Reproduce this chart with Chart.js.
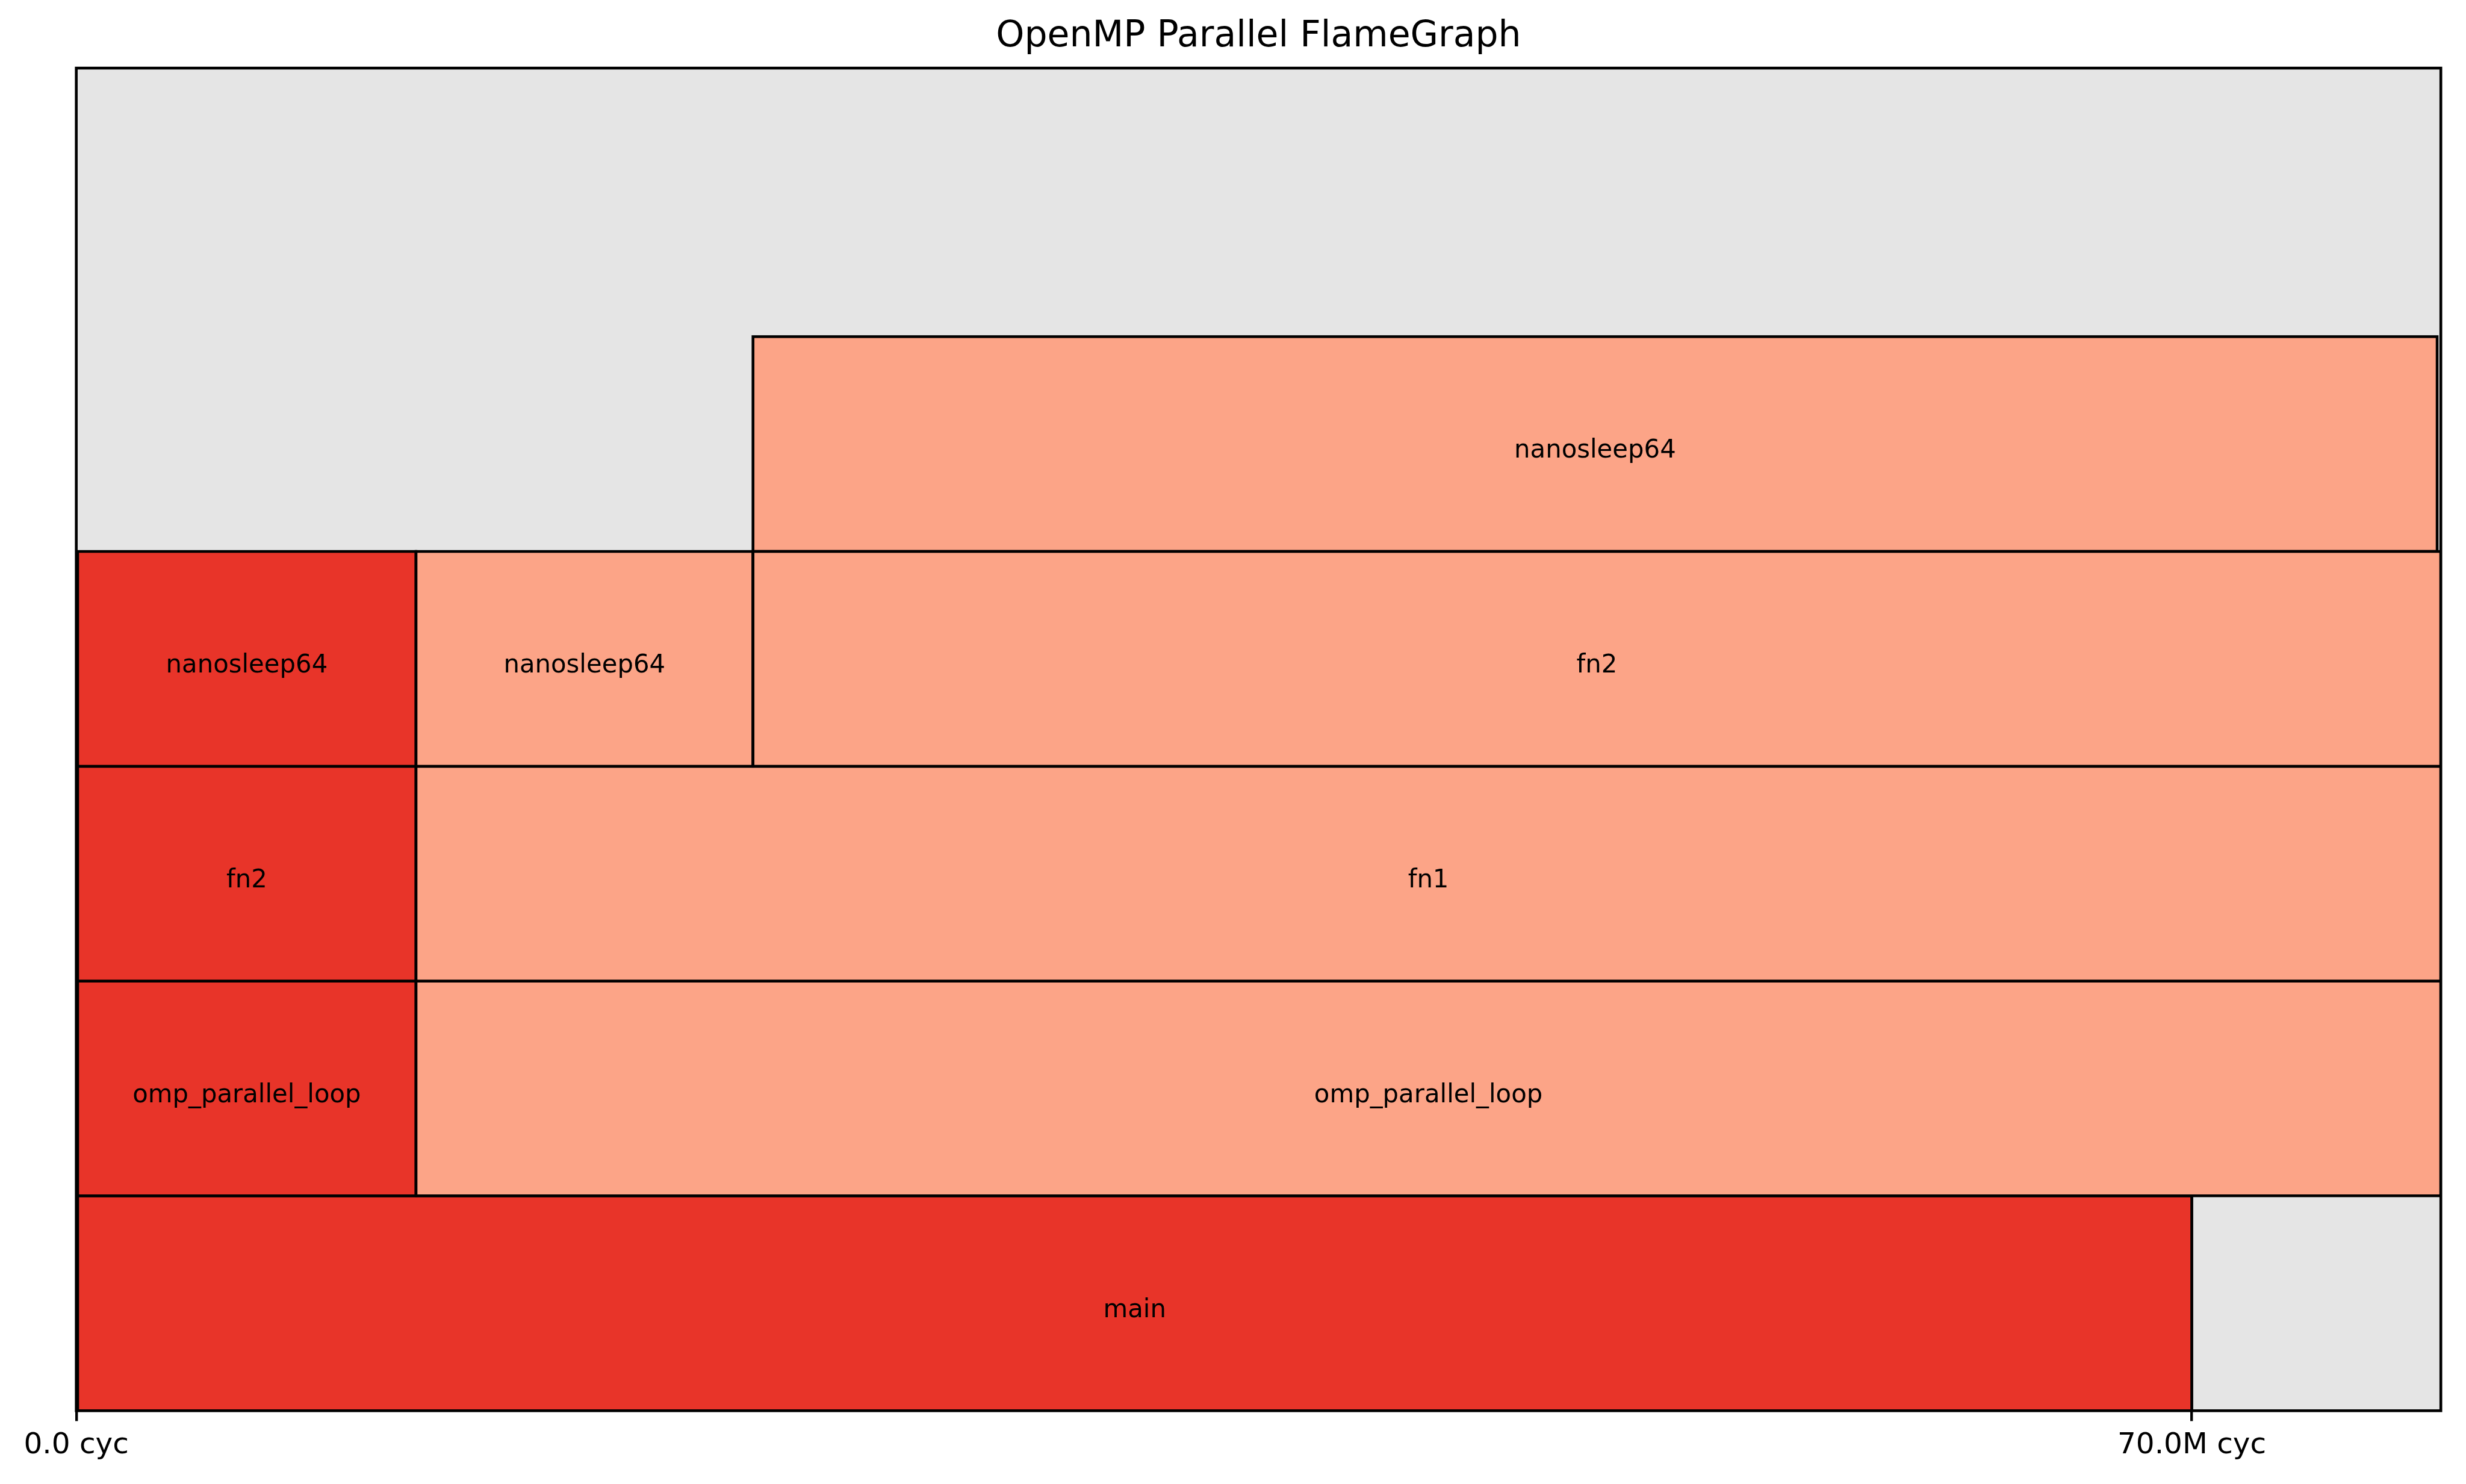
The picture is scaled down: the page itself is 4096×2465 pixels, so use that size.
<!DOCTYPE html>
<html>
<head>
<meta charset="utf-8">
<script src="https://cdn.jsdelivr.net/npm/chart.js@4/dist/chart.umd.min.js"></script>
<style>
html,body{margin:0;padding:0;background:#ffffff;}
#wrap{width:4096px;height:2465px;}
</style>
</head>
<body>
<div id="wrap"><canvas id="c" width="4096" height="2465"></canvas></div>
<script>
// ---- data (x values in millions of cycles, depth = stack level) ----
const frameNames  = ['main','omp_parallel_loop','omp_parallel_loop','fn2','fn1','nanosleep64','nanosleep64','fn2','nanosleep64'];
const frameDepth  = [0, 1, 1, 2, 2, 3, 3, 3, 4];
const frameStart  = [0, 0, 11.24, 0, 11.24, 0, 11.24, 22.39, 22.39];
const frameEnd    = [70, 11.24, 78.24, 11.24, 78.24, 11.24, 22.39, 78.24, 78.12];
const frameMaster = [1, 1, 0, 1, 0, 1, 0, 0, 0];   // 1 = master-thread frame (dark red)
const tickValues  = [0, 70];
const tickLabels  = ['0.0 cyc', '70.0M cyc'];
const titleText   = 'OpenMP Parallel FlameGraph';
const xMax = 78.24;
const yMax = 6.25;

// ---- styles ----
const HOT = '#e83429', WARM = '#fca487', BG = '#e5e5e5';
const EDGE = 4.8;
const LABEL_DY = 12;

Chart.defaults.font.family = 'DejaVu Sans';
Chart.defaults.color = '#000000';

const bars = frameNames.map((n, i) => ({ x: [frameStart[i], frameEnd[i]], y: frameDepth[i] + 0.5 }));
const colors = frameMaster.map(m => m ? HOT : WARM);

const bgPlugin = {
  id: 'axbg',
  beforeDatasetsDraw(chart) {
    const a = chart.chartArea, ctx = chart.ctx;
    ctx.save();
    ctx.fillStyle = BG;
    ctx.fillRect(a.left, a.top, a.right - a.left, a.bottom - a.top);
    ctx.restore();
  }
};

const labelPlugin = {
  id: 'barlabels',
  afterDatasetsDraw(chart) {
    const ctx = chart.ctx;
    const meta = chart.getDatasetMeta(0);
    ctx.save();
    ctx.font = '41.8px "DejaVu Sans"';
    ctx.fillStyle = '#000';
    ctx.textAlign = 'center';
    ctx.textBaseline = 'middle';
    meta.data.forEach((el, i) => {
      const p = el.getCenterPoint();
      ctx.fillText(frameNames[i], p.x, p.y + LABEL_DY);
    });
    // spines
    const a = chart.chartArea;
    ctx.strokeStyle = '#000';
    ctx.lineWidth = 4.6;
    ctx.strokeRect(a.left, a.top, a.right - a.left, a.bottom - a.top);
    ctx.restore();
  }
};

new Chart(document.getElementById('c'), {
  type: 'bar',
  data: {
    datasets: [{
      data: bars,
      backgroundColor: colors,
      borderColor: '#000000',
      borderWidth: EDGE,
      borderSkipped: false,
      inflateAmount: EDGE / 2,
      barPercentage: 1.0,
      categoryPercentage: 1.0
    }]
  },
  options: {
    indexAxis: 'y',
    responsive: false,
    devicePixelRatio: 1,
    animation: false,
    layout: { padding: { left: 126.7, right: 41.8, top: 0, bottom: 0 } },
    plugins: {
      legend: { display: false },
      tooltip: { enabled: false },
      title: {
        display: true,
        text: titleText,
        font: { size: 60, weight: 'normal', family: 'DejaVu Sans' },
        color: '#000',
        padding: { top: 25, bottom: 16.1 }
      }
    },
    scales: {
      x: {
        type: 'linear',
        position: 'bottom',
        min: 0,
        max: xMax,
        offset: false,
        afterBuildTicks: s => { s.ticks = tickValues.map(v => ({ value: v })); },
        afterFit: s => { s.height = 2465 - 2343.3; },
        ticks: {
          autoSkip: false,
          maxRotation: 0,
          minRotation: 0,
          padding: 11.4,
          font: { size: 48.5, family: 'DejaVu Sans' },
          color: '#000',
          callback: (v, i) => tickLabels[i]
        },
        grid: {
          display: true,
          drawOnChartArea: false,
          drawTicks: true,
          tickLength: 17.2,
          tickWidth: 4.4,
          tickColor: '#000',
          color: '#000',
          lineWidth: 4.4
        },
        border: { display: false }
      },
      y: {
        type: 'linear',
        display: false,
        min: 0,
        max: yMax,
        offset: false,
        grid: { offset: false },
        afterBuildTicks: s => { s.ticks = [0.5, 1.5, 2.5, 3.5, 4.5].map(v => ({ value: v })); }
      }
    }
  },
  plugins: [bgPlugin, labelPlugin]
});
</script>
</body>
</html>
